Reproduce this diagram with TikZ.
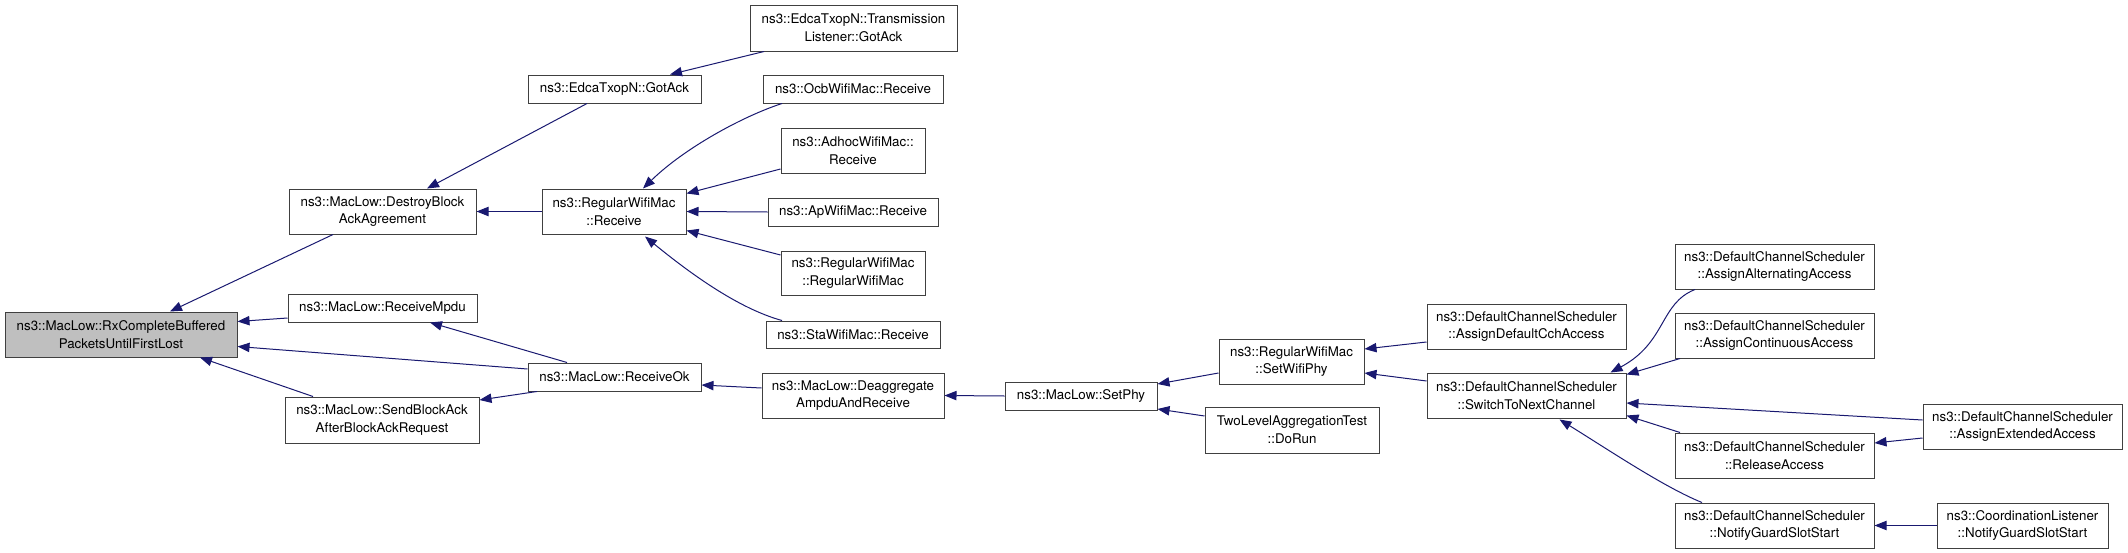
\documentclass[tikz,border=0pt]{standalone}
\usepackage{fontspec}
\setmainfont{TeX Gyre Heros}
\usetikzlibrary{arrows.meta,calc}
\definecolor{edgec}{HTML}{191970}
\definecolor{boxc}{HTML}{404040}
\definecolor{fillc}{HTML}{BFBFBF}
\begin{document}
\begin{tikzpicture}[x=0.75pt,y=-0.75pt,
  nbox/.style={draw=boxc, line width=0.75pt, rectangle, inner sep=0pt, align=center, font=\fontsize{10}{13.3}\selectfont},
  conn/.style={draw=edgec, line width=0.75pt, -{Triangle[length=9pt,width=7pt]}},
  bw/.style={minimum width={#1*0.75pt}},
  bh/.style={minimum height={#1*0.75pt}}]
\useasboundingbox (0,0) rectangle (2128,553);

\node[nbox,fill=fillc,bw=232,bh=45] (rx) at (121,334.5) {ns3::MacLow::RxCompleteBuffered\\PacketsUntilFirstLost};
\node[nbox,bw=187,bh=45] (destroy) at (382.5,211.5) {ns3::MacLow::DestroyBlock\\AckAgreement};
\node[nbox,bw=189,bh=28] (mpdu) at (382.5,308) {ns3::MacLow::ReceiveMpdu};
\node[nbox,bw=194,bh=46] (sendba) at (382,420) {ns3::MacLow::SendBlockAck\\AfterBlockAckRequest};
\node[nbox,bw=173,bh=28] (gotack) at (614.5,89) {ns3::EdcaTxopN::GotAck};
\node[nbox,bw=144,bh=45] (rwmrecv) at (614,211.5) {ns3::RegularWifiMac\\::Receive};
\node[nbox,bw=173,bh=28] (recvok) at (614.5,377) {ns3::MacLow::ReceiveOk};
\node[nbox,bw=207,bh=46] (tlgotack) at (853.5,28) {ns3::EdcaTxopN::Transmission\\Listener::GotAck};
\node[nbox,bw=180,bh=28] (ocb) at (853,89) {ns3::OcbWifiMac::Receive};
\node[nbox,bw=144,bh=45] (adhoc) at (853,150.5) {ns3::AdhocWifiMac::\\Receive};
\node[nbox,bw=170,bh=28] (ap) at (853,212) {ns3::ApWifiMac::Receive};
\node[nbox,bw=144,bh=44] (rwmrwm) at (853,273) {ns3::RegularWifiMac\\::RegularWifiMac};
\node[nbox,bw=174,bh=27] (sta) at (853,334.5) {ns3::StaWifiMac::Receive};
\node[nbox,bw=182,bh=45] (deagg) at (853,395.5) {ns3::MacLow::Deaggregate\\AmpduAndReceive};
\node[nbox,bw=152,bh=28] (setphy) at (1081,396) {ns3::MacLow::SetPhy};
\node[nbox,bw=145,bh=45] (setwifiphy) at (1291.5,361.5) {ns3::RegularWifiMac\\::SetWifiPhy};
\node[nbox,bw=174,bh=46] (twolevel) at (1292,430) {TwoLevelAggregationTest\\::DoRun};
\node[nbox,bw=199,bh=45] (defcch) at (1526.5,326.5) {ns3::DefaultChannelScheduler\\::AssignDefaultCchAccess};
\node[nbox,bw=199,bh=45] (swnext) at (1526.5,395.5) {ns3::DefaultChannelScheduler\\::SwitchToNextChannel};
\node[nbox,bw=199,bh=45] (alternating) at (1774.5,266.5) {ns3::DefaultChannelScheduler\\::AssignAlternatingAccess};
\node[nbox,bw=199,bh=45] (continuous) at (1774.5,335.5) {ns3::DefaultChannelScheduler\\::AssignContinuousAccess};
\node[nbox,bw=199,bh=45] (release) at (1774.5,455.5) {ns3::DefaultChannelScheduler\\::ReleaseAccess};
\node[nbox,bw=199,bh=45] (notify) at (1774.5,525.5) {ns3::DefaultChannelScheduler\\::NotifyGuardSlotStart};
\node[nbox,bw=199,bh=45] (extended) at (2022.5,426.5) {ns3::DefaultChannelScheduler\\::AssignExtendedAccess};
\node[nbox,bw=171,bh=45] (coord) at (2022.5,525.5) {ns3::CoordinationListener\\::NotifyGuardSlotStart};

% edges: caller -> callee
\draw[conn] ($(destroy.south)+(-49.5,0)$) -- ($(rx.north)+(49,0)$);
\draw[conn] ($(mpdu.west)+(0,10)$) -- ($(rx.east)+(0,-13)$);
\draw[conn] ($(recvok.west)+(0,-8)$) -- ($(rx.east)+(0,12)$);
\draw[conn] ($(sendba.north)+(-69,0)$) -- ($(rx.south)+(79,0)$);
\draw[conn] ($(gotack.south)+(-27.5,0)$) -- ($(destroy.north)+(44.5,0)$);
\draw[conn] (rwmrecv.west) -- (destroy.east);
\draw[conn] ($(recvok.north)+(-47.5,0)$) -- ($(mpdu.south)+(47.5,0)$);
\draw[conn] ($(recvok.south)+(-77.5,0)$) -- ($(sendba.east)+(0,-20)$);
\draw[conn] ($(tlgotack.south)+(-89.5,0)$) -- ($(gotack.north)+(55.5,0)$);
\draw[conn] ($(ocb.south)+(-71,0)$) .. controls ($(ocb.south)+(-111,13)$) and ($(rwmrecv.north)+(70,-40)$) .. ($(rwmrecv.north)+(29,0)$);
\draw[conn] ($(adhoc.west)+(0,18.5)$) -- ($(rwmrecv.east)+(0,-18)$);
\draw[conn] (ap.west) -- (rwmrecv.east);
\draw[conn] ($(rwmrwm.west)+(0,-18)$) -- ($(rwmrecv.east)+(0,19)$);
\draw[conn] ($(sta.north)+(-71,0)$) .. controls ($(sta.north)+(-115,-12)$) and ($(rwmrecv.south)+(75,38)$) .. ($(rwmrecv.south)+(31,2)$);
\draw[conn] ($(deagg.west)+(0,-7.5)$) -- ($(recvok.east)+(0,8)$);
\draw[conn] (setphy.west) -- (deagg.east);
\draw[conn] ($(setwifiphy.west)+(0,11.5)$) -- ($(setphy.east)+(0,-12)$);
\draw[conn] ($(twolevel.west)+(0,-14)$) -- ($(setphy.east)+(0,13)$);
\draw[conn] ($(defcch.west)+(0,15.5)$) -- ($(setwifiphy.east)+(0,-12.5)$);
\draw[conn] ($(swnext.west)+(0,-14.5)$) -- ($(setwifiphy.east)+(0,11.5)$);
\draw[conn] ($(alternating.south)+(-79.5,0)$) .. controls ($(alternating.south)+(-115,14)$) and ($(swnext.north)+(140,-30)$) .. ($(swnext.north)+(84,0)$);
\draw[conn] ($(continuous.south)+(-94.5,0)$) -- ($(swnext.east)+(0,-21)$);
\draw[conn] ($(extended.west)+(0,-6.5)$) -- ($(swnext.east)+(0,7.5)$);
\draw[conn] ($(release.north)+(-94.5,0)$) -- ($(swnext.east)+(0,20)$);
\draw[conn] ($(notify.north)+(-72.5,0)$) .. controls ($(notify.north)+(-110,-15)$) and ($(swnext.south)+(80,30)$) .. ($(swnext.south)+(33,1)$);
\draw[conn] ($(extended.west)+(0,11.5)$) -- ($(release.east)+(0,-12.5)$);
\draw[conn] (coord.west) -- (notify.east);
\end{tikzpicture}
\end{document}
